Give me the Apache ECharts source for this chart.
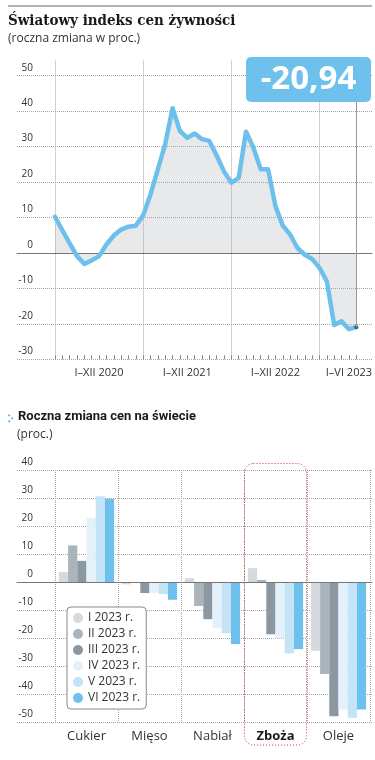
<!DOCTYPE html>
<html><head><meta charset="utf-8">
<script src="https://cdn.jsdelivr.net/npm/echarts@6/dist/echarts.min.js"></script>
<style>html,body{margin:0;padding:0;background:#fff;}#c{width:375px;height:760px;}</style>
</head><body><div id="c"></div>
<script>
// ---- Data: top chart (FAO food price index, y/y % change) ----
const romanMonths = ['I','II','III','IV','V','VI','VII','VIII','IX','X','XI','XII'];
const years = [2020, 2021, 2022, 2023];
const months = [];
years.forEach(y => romanMonths.forEach((m, i) => { if (!(y === 2023 && i > 5)) months.push(m + ' ' + y); }));
const foodIndex = [
  10.2, 6.4, 2.7, -0.9, -3.1, -2.1, -0.9, 2.4, 4.9, 6.6, 7.4, 7.7,
  10.6, 16.5, 23.6, 30.7, 40.8, 34.4, 32.5, 33.7, 32.1, 31.6, 27.5, 23.0,
  19.8, 21.2, 34.2, 29.7, 23.6, 23.6, 13.2, 7.7, 5.2, 1.4, -0.5, -1.7,
  -4.2, -8.0, -20.3, -19.3, -21.5, -20.94
];
const yearLabels = ['I–XII 2020', 'I–XII 2021', 'I–XII 2022', 'I–VI 2023'];
const yearLabelIdx = [6, 18, 30, 40];
const topTicks = [-30, -20, -10, 0, 10, 20, 30, 40, 50];

// ---- Data: bottom chart ----
const categories = ['Cukier', 'Mięso', 'Nabiał', 'Zboża', 'Oleje'];
const seriesNames = ['I 2023 r.', 'II 2023 r.', 'III 2023 r.', 'IV 2023 r.', 'V 2023 r.', 'VI 2023 r.'];
const m1 = [3.6, -0.8, 1.4, 5.0, -24.5];
const m2 = [13.1, -0.3, -8.5, 0.8, -32.8];
const m3 = [7.6, -3.9, -13.2, -18.6, -47.8];
const m4 = [22.9, -3.8, -16.4, -20.0, -45.5];
const m5 = [30.6, -4.3, -18.2, -25.4, -48.4];
const m6 = [29.7, -6.3, -22.1, -23.9, -45.4];
const barValues = [m1, m2, m3, m4, m5, m6];
const barColors = ['#d6d9dd', '#aab4bb', '#8b98a2', '#e3f1fb', '#c4e3f7', '#6ec1ec'];
const highlighted = 'Zboża';

const FONT = '"Open Sans", "Noto Sans", sans-serif';
const GRID = '#a5a5a5';
const lastIdx = foodIndex.length - 1;
const lastVal = foodIndex[lastIdx];

const chart = echarts.init(document.getElementById('c'));
const dotted = {color: GRID, type: 'dotted', width: 1};

const option = {
  animation: false,
  textStyle: {fontFamily: FONT},
  title: [
    {text: 'Światowy indeks cen żywności', left: 8, top: 14, padding: 0,
     textStyle: {fontFamily: '"DejaVu Serif Condensed", "DejaVu Serif", serif', fontWeight: 'bold', fontSize: 15, color: '#1a1a1a'}},
    {text: '(roczna zmiana w proc.)', left: 8, top: 33, padding: 0,
     textStyle: {fontFamily: FONT, fontWeight: 'normal', fontSize: 12, color: '#333'}},
    {text: 'Roczna zmiana cen na świecie', left: 18, top: 410, padding: 0,
     textStyle: {fontFamily: 'Roboto, "Open Sans", sans-serif', fontWeight: 'bold', fontSize: 13, color: '#1a1a1a'}},
    {text: '(proc.)', left: 17, top: 429, padding: 0,
     textStyle: {fontFamily: FONT, fontWeight: 'normal', fontSize: 12, color: '#333'}}
  ],
  grid: [
    {left: 17, right: 3, top: 75.7, bottom: 400.7},
    {left: 55, right: 18.5, top: 75.7, bottom: 400.7},
    {left: 17, right: 3, top: 470, bottom: 37.7},
    {left: 55, right: 5, top: 470, bottom: 37.7}
  ],
  xAxis: [
    {gridIndex: 0, type: 'value', min: 0, max: 1, z: 2,
     axisLine: {show: true, onZero: true, lineStyle: {color: '#777', width: 1}},
     axisTick: {show: false}, axisLabel: {show: false}, splitLine: {show: false}},
    {gridIndex: 1, type: 'category', data: months, boundaryGap: false, z: 2,
     axisLine: {show: false, onZero: false},
     axisTick: {show: true, inside: true, length: 4, interval: 0, lineStyle: {color: '#888'}},
     axisLabel: {interval: 0, margin: 8, fontSize: 11, color: '#333',
       formatter: (v, i) => { const k = yearLabelIdx.indexOf(i); return k >= 0 ? yearLabels[k] : ''; }},
     splitLine: {show: true, interval: (i) => i % 12 === 0, lineStyle: dotted}},
    {gridIndex: 1, type: 'category', data: months, boundaryGap: false,
     axisLine: {show: false, onZero: false},
     axisTick: {show: true, length: 16, interval: (i) => i % 12 === 0, lineStyle: dotted},
     axisLabel: {show: false}, splitLine: {show: false}},
    {gridIndex: 2, type: 'value', min: 0, max: 1, z: 3,
     axisLine: {show: true, onZero: true, lineStyle: {color: '#777', width: 1}},
     axisTick: {show: false}, axisLabel: {show: false}, splitLine: {show: false}},
    {gridIndex: 3, type: 'category', data: categories,
     axisLine: {show: false, onZero: false}, axisTick: {show: false},
     axisLabel: {interval: 0, margin: 7, fontSize: 13, color: '#333',
       formatter: v => v === highlighted ? '{b|' + v + '}' : v,
       rich: {b: {fontWeight: 'bold', fontSize: 13, color: '#1a1a1a', fontFamily: FONT}}},
     splitLine: {show: true, interval: 0, lineStyle: dotted}}
  ],
  yAxis: [
    {gridIndex: 0, type: 'value', min: -30, max: 50, interval: 10, z: 2,
     axisLine: {show: false}, axisTick: {show: false},
     axisLabel: {margin: -16, fontSize: 10, color: '#333', verticalAlign: 'bottom', padding: [0, 0, 3, 0]},
     splitLine: {show: true, lineStyle: dotted}},
    {gridIndex: 1, type: 'value', min: -30, max: 50, show: false},
    {gridIndex: 2, type: 'value', min: -50, max: 40, interval: 10,
     axisLine: {show: false}, axisTick: {show: false},
     axisLabel: {margin: -16, fontSize: 10, color: '#333', verticalAlign: 'bottom', padding: [0, 0, 3, 0]},
     splitLine: {show: true, lineStyle: dotted}},
    {gridIndex: 3, type: 'value', min: -50, max: 40, show: false}
  ],
  legend: {
    data: seriesNames, orient: 'vertical', left: 67, top: 607,
    padding: [3, 6, 3, 6], itemWidth: 10, itemHeight: 10, itemGap: 0, icon: 'circle',
    backgroundColor: '#fff', borderColor: '#888', borderWidth: 1, borderRadius: 4,
    textStyle: {fontSize: 12, color: '#333', lineHeight: 16, fontFamily: FONT},
    selectedMode: false, z: 10
  },
  series: [
    {type: 'line', xAxisIndex: 1, yAxisIndex: 1, data: foodIndex, symbol: 'none', silent: true,
     lineStyle: {opacity: 0}, areaStyle: {color: '#e8e9eb', opacity: 1}, z: 1},
    {type: 'line', xAxisIndex: 1, yAxisIndex: 1, data: foodIndex, symbol: 'none', silent: true,
     lineStyle: {width: 4.5, color: '#6cc0eb', join: 'round', cap: 'round'}, z: 3,
     markLine: {silent: true, symbol: ['none', 'none'], label: {show: false},
       lineStyle: {color: '#9a9a9a', width: 1, type: 'solid'},
       data: [[{coord: [months[lastIdx], lastVal]}, {coord: [months[lastIdx], 42.6]}]]}},
    {type: 'scatter', xAxisIndex: 1, yAxisIndex: 1, silent: true,
     data: foodIndex.map((v, i) => i === lastIdx ? v : '-'), symbolSize: 4,
     itemStyle: {color: '#3b4b5b'}, z: 4}
  ].concat(barValues.map((vals, k) => ({
    type: 'bar', name: seriesNames[k], xAxisIndex: 4, yAxisIndex: 3, data: vals,
    barWidth: 9.2, barGap: '0%', itemStyle: {color: barColors[k]}, silent: true, z: 2
  }))),
  graphic: [
    {type: 'line', shape: {x1: 8, y1: 6, x2: 372, y2: 6}, style: {stroke: '#9a9a9a', lineWidth: 1.5}},
    {type: 'rect', shape: {x: 246, y: 57, width: 125, height: 45, r: 5}, style: {fill: '#6ec1ec'}, z: 10},
    {type: 'text', x: 308.5, y: 80, z: 11,
     style: {text: lastVal.toFixed(2).replace('.', ','), fill: '#fff', font: 'bold 33px "Open Sans"',
       textAlign: 'center', textVerticalAlign: 'middle', align: 'center', verticalAlign: 'middle'}},
    {type: 'circle', shape: {cx: 9.2, cy: 415.3, r: 1.1}, style: {fill: '#5ab6e6'}},
    {type: 'circle', shape: {cx: 9.2, cy: 421.3, r: 1.1}, style: {fill: '#5ab6e6'}},
    {type: 'circle', shape: {cx: 12.0, cy: 418.3, r: 1.1}, style: {fill: '#5ab6e6'}}
  ]
};
chart.setOption(option);

// highlight box around the emphasised category
const cx = chart.convertToPixel({xAxisIndex: 4}, highlighted);
const g = option.graphic.slice();
g.push({type: 'rect', shape: {x: cx - 31, y: 463.5, width: 62, height: 281.5, r: 9},
  style: {fill: 'none', stroke: '#c0392b', lineWidth: 1, lineDash: [1, 2]}, z: 12});
chart.setOption({graphic: g});
</script>
</body></html>
